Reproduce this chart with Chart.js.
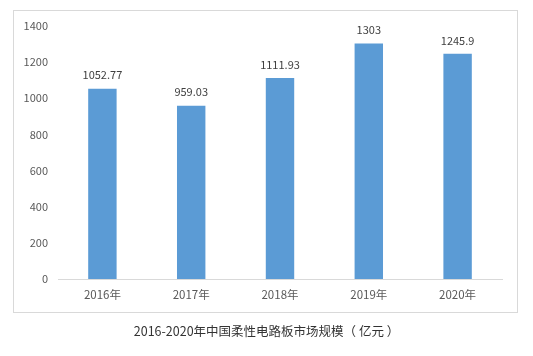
<!DOCTYPE html>
<html>
<head>
<meta charset="utf-8">
<script src="https://cdn.jsdelivr.net/npm/chart.js@4"></script>
<style>
  html, body { margin: 0; padding: 0; background: #fff; }
  #wrap { position: relative; width: 533px; height: 356px; }
  #frame { position: absolute; left: 13px; top: 10px; width: 503px; height: 301px; border: 1px solid #d9d9d9; }
  #caption { position: absolute; left: 0; width: 533px; top: 321px; text-align: center;
    font-family: "Noto Sans CJK SC", sans-serif; font-size: 12.5px; color: #333; }
  canvas { position: absolute; left: 0; top: 0; }
</style>
</head>
<body>
<div id="wrap">
  <div id="frame"></div>
  <canvas id="barChart" width="533" height="356"></canvas>
  <div id="caption">2016-2020年中国柔性电路板市场规模（ 亿元 ）</div>
</div>
<script>
var years = ['2016年', '2017年', '2018年', '2019年', '2020年'];
var marketSize = [1052.77, 959.03, 1111.93, 1303, 1245.9];
var valueLabels = ['1052.77', '959.03', '1111.93', '1303', '1245.9'];

var fontFamily = '"Noto Sans CJK SC", sans-serif';

// labels above each bar
var labelPlugin = {
    id: 'valueLabels',
    afterDatasetsDraw: function(chart) {
        var ctx = chart.ctx;
        var meta = chart.getDatasetMeta(0);
        ctx.save();
        ctx.font = '11px ' + fontFamily;
        ctx.fillStyle = '#404040';
        ctx.textAlign = 'center';
        ctx.textBaseline = 'bottom';
        meta.data.forEach(function(bar, i) {
            ctx.fillText(valueLabels[i], bar.x, bar.y - 8);
        });
        ctx.restore();
    }
};

var ctx = document.getElementById('barChart').getContext('2d');
var myChart = new Chart(ctx, {
    type: 'bar',
    data: {
        labels: years,
        datasets: [{
            data: marketSize,
            backgroundColor: '#5b9bd5',
            borderWidth: 0,
            categoryPercentage: 1,
            barPercentage: 0.32
        }]
    },
    options: {
        responsive: false,
        animation: false,
        layout: { padding: { left: 0, right: 31, top: 26, bottom: 0 } },
        plugins: {
            legend: { display: false },
            tooltip: { enabled: false }
        },
        scales: {
            x: {
                grid: { display: false, drawTicks: false },
                border: { color: '#d9d9d9', width: 1 },
                ticks: { color: '#595959', font: { family: fontFamily, size: 11.5 }, padding: 9 },
                afterFit: function(s) { s.height = 77; }
            },
            y: {
                min: 0,
                max: 1400,
                grid: { display: false, drawTicks: false },
                border: { display: false },
                ticks: {
                    stepSize: 200,
                    color: '#595959',
                    font: { family: fontFamily, size: 11 },
                    padding: 10,
                    callback: function(value) { return String(value); }
                },
                afterFit: function(s) { s.width = 58; }
            }
        }
    },
    plugins: [labelPlugin]
});
</script>
</body>
</html>
